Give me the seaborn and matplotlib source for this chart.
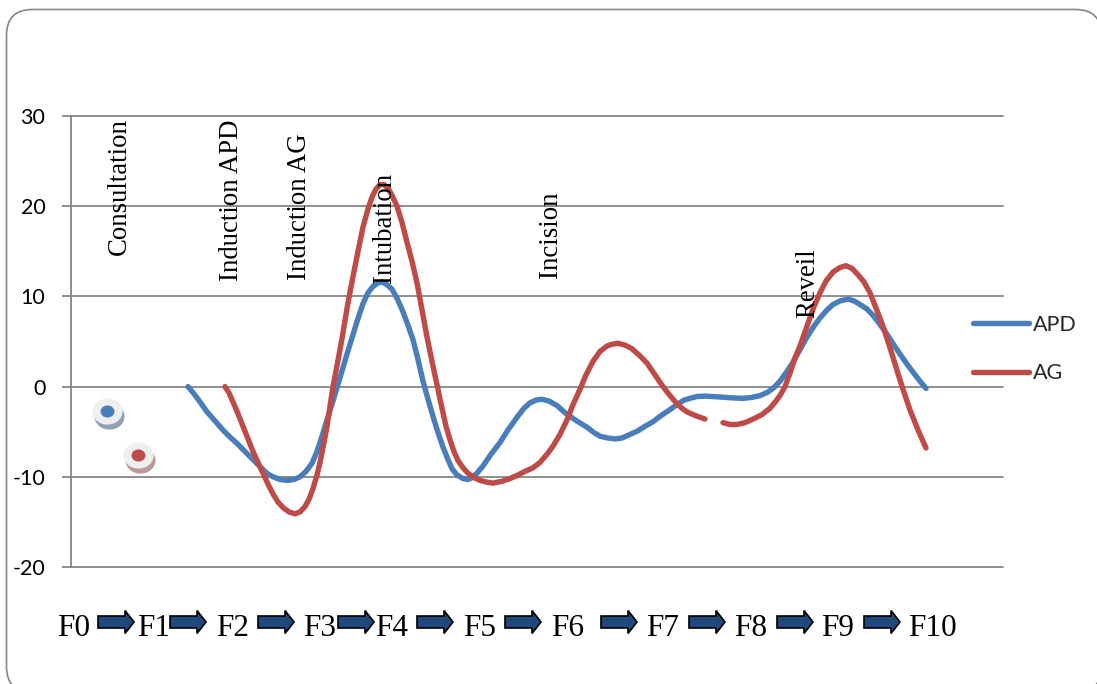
import matplotlib
matplotlib.use("Agg")
import matplotlib.pyplot as plt
import pandas as pd
import seaborn as sns
from matplotlib.patches import FancyArrow, FancyBboxPatch
from matplotlib.path import Path
from matplotlib.transforms import Affine2D, offset_copy

# curves, x runs 71 to 1003 along the grid
apd_x = [188, 194, 200, 207, 215, 222, 230, 238, 245, 254, 263, 268, 273, 280, 287, 294, 300,
         306, 312, 317, 322, 327, 333, 340, 347, 352, 357, 363, 368, 373, 378, 382, 387, 392,
         397, 403, 408, 413, 418, 423, 428, 433, 438, 443, 448, 452, 457, 463, 468, 472, 477,
         483, 491, 500, 508, 517, 524, 530, 536, 542, 549, 557, 564, 570, 578, 587, 594, 600,
         608, 615, 622, 630, 638, 645, 653, 660, 668, 677, 684, 690, 697, 705, 712, 720, 732,
         743, 752, 760, 768, 774, 780, 787, 793, 800, 807, 814, 820, 827, 833, 840, 848, 854,
         860, 867, 873, 880, 887, 894, 900, 907, 913, 920, 926]
apd_y = [0, -0.8, -1.7, -2.8, -3.8, -4.7, -5.6, -6.4, -7.2, -8.2, -9.2, -9.7, -10, -10.3, -10.4,
         -10.3, -10, -9.4, -8.5, -7.2, -5.5, -3.7, -1.6, 1, 3.6, 5.4, 7.2, 9.2, 10.4, 11.1,
         11.5, 11.6, 11.3, 10.8, 9.8, 8.3, 6.8, 5.2, 3, 0.6, -1.4, -3.3, -5.1, -6.7, -8.1, -9.1,
         -9.8, -10.2, -10.3, -10.1, -9.6, -8.8, -7.5, -6.2, -4.8, -3.4, -2.4, -1.8, -1.5, -1.4,
         -1.6, -2.1, -2.8, -3.3, -3.9, -4.5, -5.1, -5.5, -5.7, -5.8, -5.7, -5.3, -4.9, -4.4,
         -3.9, -3.3, -2.7, -2, -1.5, -1.3, -1.1, -1.05, -1.1, -1.15, -1.25, -1.3, -1.2, -1,
         -0.6, -0.1, 0.6, 1.7, 2.7, 4.1, 5.5, 6.7, 7.6, 8.5, 9.1, 9.5, 9.7, 9.5, 9.1, 8.6, 7.9,
         6.9, 5.8, 4.6, 3.6, 2.5, 1.6, 0.6, -0.2]
ag_x_before = [225, 229, 233, 238, 243, 248, 253, 258, 263, 268, 273, 278, 283, 289, 295, 300,
               305, 309, 313, 317, 320, 324, 327, 330, 333, 337, 340, 343, 348, 353, 358, 363,
               368, 372, 376, 380, 384, 388, 392, 397, 402, 407, 412, 417, 422, 427, 432, 437,
               440, 443, 446, 450, 454, 458, 463, 468, 474, 480, 487, 493, 502, 510, 518, 525,
               533, 540, 547, 553, 560, 567, 573, 580, 586, 593, 600, 607, 612, 618, 625, 632,
               640, 647, 655, 663, 670, 677, 682, 687, 695, 705]
ag_y_before = [0, -0.7, -1.7, -3, -4.4, -5.8, -7.2, -8.4, -9.6, -10.8, -11.9, -12.8, -13.4,
               -13.9, -14.1, -13.9, -13.3, -12.5, -11.3, -9.8, -8.4, -6.2, -4.4, -2.2, 0, 2.3,
               4.1, 6, 9.3, 12.2, 15, 17.7, 19.7, 21, 21.9, 22.4, 22.4, 22, 21.2, 20, 18.2, 16,
               13.9, 11.5, 8.5, 5.5, 2.8, 0.2, -1.4, -2.9, -4.4, -5.9, -7.2, -8.2, -9, -9.6,
               -10.1, -10.4, -10.6, -10.7, -10.5, -10.2, -9.8, -9.4, -9, -8.4, -7.5, -6.6, -5.3,
               -3.7, -2, -0.3, 1.3, 2.8, 3.9, 4.5, 4.7, 4.8, 4.6, 4.2, 3.4, 2.6, 1.3, 0, -1,
               -1.9, -2.4, -2.8, -3.2, -3.6]
ag_x_after = [723, 730, 737, 745, 753, 762, 770, 776, 780, 785, 790, 795, 800, 807, 813, 820,
              826, 833, 840, 846, 852, 858, 864, 870, 876, 883, 890, 897, 903, 910, 918, 926]
ag_y_after = [-4, -4.2, -4.2, -4, -3.6, -3.1, -2.4, -1.6, -1, 0, 1.5, 3.2, 4.5, 6.7, 8.6, 10.4,
              11.7, 12.7, 13.2, 13.4, 13.1, 12.4, 11.6, 10.4, 8.7, 6.7, 4.3, 1.8, -0.3, -2.6,
              -4.8, -6.8]
start_x = [107, 138]
start_y = [-2.7, -7.6]
y_ticks = [-20, -10, 0, 10, 20, 30]

stage_names = ["Consultation", "Induction APD", "Induction AG", "Intubation", "Incision", "Reveil"]
stage_px = [119, 231, 299, 384, 551, 808]
stage_bottom = [255, 281, 280, 283, 278, 318]

f_labels = ["F0", "F1", "F2", "F3", "F4", "F5", "F6", "F7", "F8", "F9", "F10"]
f_px = [57, 137, 216, 303, 375, 463, 551, 646, 734, 821, 908]
arrow_px = [98, 170, 258, 338, 417, 505, 601, 689, 777, 864]

BLUE = "#4A7EBB"
RED = "#BE4B48"
GRAY = "#868686"

df = pd.concat([
    pd.DataFrame({"x": apd_x, "y": apd_y, "serie": "APD", "seg": 0}),
    pd.DataFrame({"x": ag_x_before, "y": ag_y_before, "serie": "AG", "seg": 1}),
    pd.DataFrame({"x": ag_x_after, "y": ag_y_after, "serie": "AG", "seg": 2}),
])

sns.set_theme(style="white")
plt.rcParams["font.family"] = ["Lato", "DejaVu Sans"]
plt.rcParams["axes.unicode_minus"] = False

fig = plt.figure(figsize=(10.97, 6.84), dpi=100)
W, H = 1097, 684
# pixel coords of the picture, y going down
px = Affine2D().scale(1 / W, -1 / H).translate(0, 1) + fig.transFigure

fig.add_artist(FancyBboxPatch((6.5, 9.5), 1095, 683, boxstyle="round,pad=0,rounding_size=26",
                              transform=px, fc="white", ec=GRAY, lw=1.2, zorder=-1))

ax = fig.add_axes([71 / W, 1 - 567 / H, 932 / W, 451 / H])
ax.patch.set_visible(False)

sns.lineplot(data=df, x="x", y="y", hue="serie", units="seg", estimator=None, sort=False,
             palette={"APD": BLUE, "AG": RED}, lw=3.9, ax=ax,
             solid_capstyle="round", solid_joinstyle="round", zorder=3)

ax.set_xlim(71, 1003)
ax.set_ylim(-20, 30)
ax.set_xticks([])
ax.set_yticks(y_ticks)
ax.set_xlabel("")
ax.set_ylabel("")
ax.grid(axis="y", color=GRAY, lw=1.3)
for g in ax.get_ygridlines():
    g.set_clip_on(False)
ax.set_axisbelow(True)
for s in ["top", "right", "bottom"]:
    ax.spines[s].set_visible(False)
ax.spines["left"].set_color(GRAY)
ax.spines["left"].set_linewidth(1.3)
ax.tick_params(axis="y", length=6.5, width=1.3, color=GRAY, left=True, pad=12,
               labelsize=15.5, labelcolor="black")

handles, labels = ax.get_legend_handles_labels()
handles = [h for h, l in zip(handles, labels) if l in ("APD", "AG")]
ax.get_legend().remove()
leg = fig.legend(handles, ["APD", "AG"], loc="center left", bbox_to_anchor=(973 / W, 1 - 349 / H),
                 frameon=False, fontsize=15.5, borderpad=0, borderaxespad=0,
                 handlelength=2.6, handletextpad=0.2, labelspacing=1.32)
for h in leg.get_lines():
    h.set_solid_capstyle("round")
    h.set_linewidth(3.9)

# the two start markers, disc with a shadow under it
disc = Path.unit_circle().transformed(Affine2D().scale(1, 0.87))
shadow = offset_copy(ax.transData, fig=fig, x=2, y=-5, units="dots")
for i, (c, sh) in enumerate([(BLUE, "#8E9FB6"), (RED, "#B99A9A")]):
    sns.scatterplot(x=[start_x[i]], y=[start_y[i]], marker=disc, s=470, color=sh, lw=0,
                    transform=shadow, ax=ax, zorder=2, legend=False)
    sns.scatterplot(x=[start_x[i]], y=[start_y[i]], marker=disc, s=470, color="#EFEFF0", lw=0,
                    ax=ax, zorder=2.1, legend=False)
    sns.scatterplot(x=[start_x[i]], y=[start_y[i]], marker=disc, s=100, color=c, lw=0,
                    ax=ax, zorder=2.2, legend=False)

for name, x, b in zip(stage_names, stage_px, stage_bottom):
    fig.text(x, b, name, transform=px, rotation=90, ha="center", va="bottom",
             family="Liberation Serif", fontsize=19.3, color="black", zorder=5)

for lab, x in zip(f_labels, f_px):
    fig.text(x, 636, lab, transform=px, ha="left", va="baseline",
             family="Liberation Serif", fontsize=22.5, color="black", zorder=5)

for x in arrow_px:
    fig.add_artist(FancyArrow(x, 622, 36, 0, width=12, head_width=23, head_length=9,
                              length_includes_head=True, transform=px,
                              fc="#1F497D", ec="black", lw=1.2, zorder=4))

fig.savefig("out.png", dpi=100)
